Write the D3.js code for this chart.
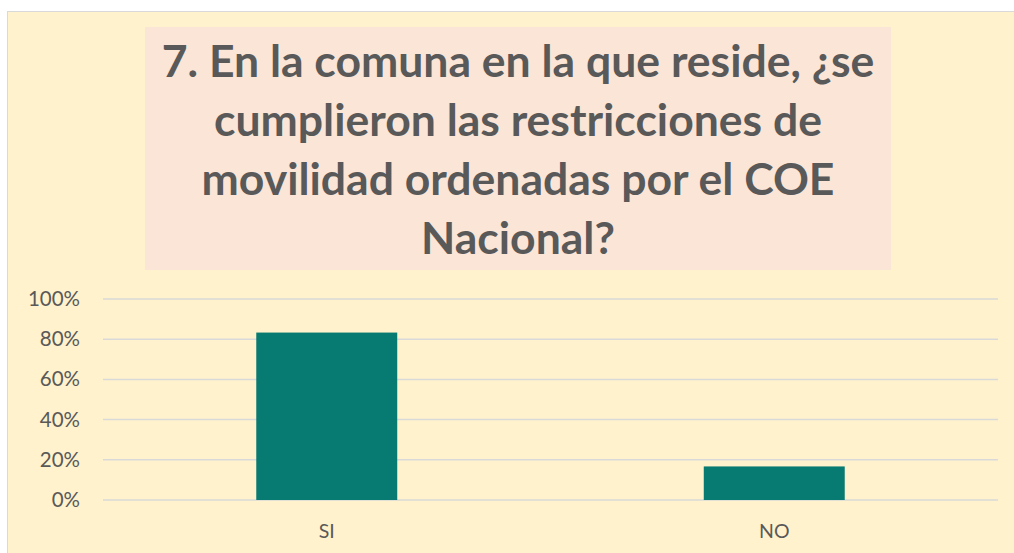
<!DOCTYPE html>
<html>
<head>
<meta charset="utf-8">
<script src="https://cdn.jsdelivr.net/npm/d3@7"></script>
<style>
  body { margin: 0; background: #fff; }
  text { font-family: Lato, "Open Sans", sans-serif; }
</style>
</head>
<body>
<div id="chart"></div>
<script>
// data
var categories = ["SI", "NO"];
var values = [0.833, 0.167];
var yTicks = [0, 0.2, 0.4, 0.6, 0.8, 1];
var titleLines = [
  "7. En la comuna en la que reside, ¿se",
  "cumplieron las restricciones de",
  "movilidad ordenadas por el COE",
  "Nacional?"
];

var svgWidth = 1014, svgHeight = 553;
var margins = { top: 299, bottom: 53, left: 103, right: 16 };
var width = svgWidth - margins.left - margins.right;
var height = svgHeight - margins.top - margins.bottom;

var svg = d3.select("#chart")
  .append("svg")
  .attr("width", svgWidth)
  .attr("height", svgHeight);

// chart background + border
svg.append("rect")
  .attr("x", 7.5).attr("y", 11.5)
  .attr("width", svgWidth).attr("height", svgHeight)
  .attr("fill", "#FFF2CC")
  .attr("stroke", "#D9D9D9");

// title box
svg.append("rect")
  .attr("x", 145).attr("y", 27)
  .attr("width", 746).attr("height", 243)
  .attr("fill", "#FBE5D6");

var title = svg.append("g");
title.selectAll("text")
  .data(titleLines)
  .enter()
  .append("text")
  .attr("x", 518)
  .attr("y", (d, i) => 77 + i * 59)
  .attr("text-anchor", "middle")
  .style("font-size", "44.5px")
  .style("font-weight", "bold")
  .style("fill", "#595959")
  .text(d => d);

var chartGroup = svg.append("g")
  .attr("transform", `translate(${margins.left},${margins.top})`);

var xScale = d3.scaleBand()
  .domain(categories)
  .range([0, width])
  .paddingInner(0.685)
  .paddingOuter(0.3425);

var yScale = d3.scaleLinear()
  .domain([0, 1])
  .range([height, 0]);

// gridlines
chartGroup.append("g")
  .selectAll("line")
  .data(yTicks)
  .enter()
  .append("line")
  .attr("x1", 0).attr("x2", width)
  .attr("y1", d => yScale(d)).attr("y2", d => yScale(d))
  .attr("stroke", "#D9D9D9")
  .attr("stroke-width", 1.5);

var yAxis = d3.axisLeft(yScale)
  .tickValues(yTicks)
  .tickFormat(d3.format(".0%"))
  .tickSize(0)
  .tickPadding(23);

var yG = chartGroup.append("g").call(yAxis);
yG.select(".domain").remove();
yG.selectAll("text")
  .style("font-size", "20.5px")
  .style("fill", "#595959")
  .style("font-family", "Lato, 'Open Sans', sans-serif");

chartGroup.selectAll(".bar")
  .data(values)
  .enter()
  .append("rect")
  .attr("class", "bar")
  .attr("x", (d, i) => xScale(categories[i]))
  .attr("width", xScale.bandwidth())
  .attr("y", d => yScale(d))
  .attr("height", d => height - yScale(d))
  .attr("fill", "#077A72");

var xAxis = d3.axisBottom(xScale)
  .tickSize(0)
  .tickPadding(24);

var xG = chartGroup.append("g")
  .attr("transform", `translate(0,${height})`)
  .call(xAxis);
xG.select(".domain").remove();
xG.selectAll("text")
  .style("font-size", "19.5px")
  .style("fill", "#595959")
  .style("font-family", "Lato, 'Open Sans', sans-serif");
</script>
</body>
</html>
